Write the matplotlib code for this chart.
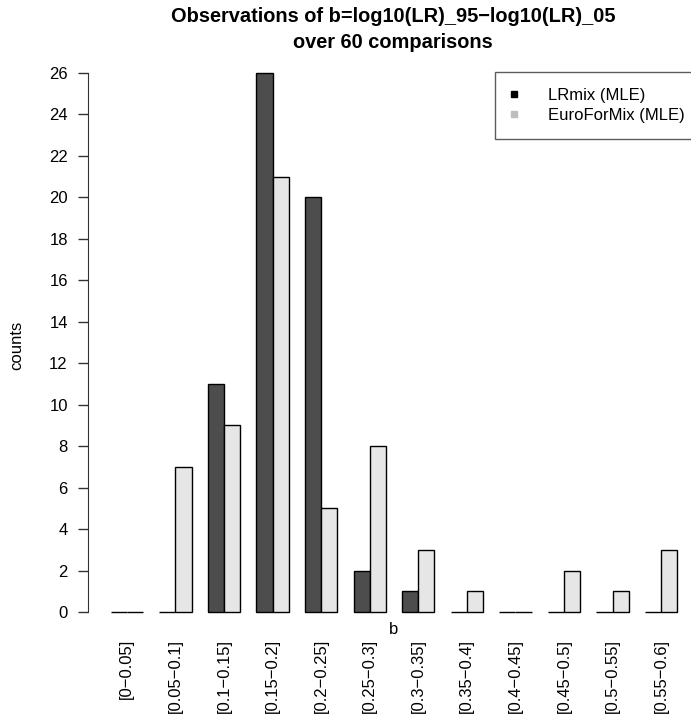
import matplotlib
matplotlib.use('Agg')
import matplotlib.pyplot as plt
from matplotlib.lines import Line2D
import numpy as np

bins = ['[0\u22120.05]', '[0.05\u22120.1]', '[0.1\u22120.15]', '[0.15\u22120.2]',
        '[0.2\u22120.25]', '[0.25\u22120.3]', '[0.3\u22120.35]', '[0.35\u22120.4]',
        '[0.4\u22120.45]', '[0.45\u22120.5]', '[0.5\u22120.55]', '[0.55\u22120.6]']
lrmix = [0, 0, 11, 26, 20, 2, 1, 0, 0, 0, 0, 0]
euroformix = [0, 7, 9, 21, 5, 8, 3, 1, 0, 2, 1, 3]
series_names = ['LRmix (MLE)', 'EuroForMix (MLE)']
yticks = list(range(0, 27, 2))

plt.rcParams['font.family'] = ['Liberation Sans', 'DejaVu Sans']

W, H = 691, 718
fig = plt.figure(figsize=(W / 100, H / 100), dpi=100)
# plot region (pixels): x 88..700, y 51..634
ax = fig.add_axes([88 / W, (H - 633.6) / H, 612 / W, (633.6 - 51.4) / H])

# barplot(beside=TRUE) layout: bars of width 1, one unit gap between groups
g = np.arange(len(bins)) * 3
ax.bar(g + 1, lrmix, width=1, align='edge', color='#4d4d4d',
       edgecolor='black', linewidth=1)
ax.bar(g + 2, euroformix, width=1, align='edge', color='#e6e6e6',
       edgecolor='black', linewidth=1)

ax.set_xlim(-0.4, 37.4)
ax.set_ylim(-1.04, 27.04)

for s in ['top', 'right', 'bottom']:
    ax.spines[s].set_visible(False)
ax.spines['left'].set_bounds(0, 26)
ax.spines['left'].set_color('#333333')
ax.set_yticks(yticks)
ax.tick_params(axis='y', length=7.5, width=1, color='#333333', labelsize=12,
               pad=7)

ax.set_xticks(g + 2)
ax.set_xticklabels(bins, rotation=90, fontsize=12, va='top')
ax.tick_params(axis='x', length=0, pad=4)

fig.text(394 / W, 1 - 630 / H, 'b', ha='center', va='center', fontsize=12)
fig.text(17 / W, 1 - 345 / H, 'counts', ha='center', va='center',
         rotation=90, fontsize=12)
fig.text(393 / W, 1 - 17 / H, 'Observations of b=log10(LR)_95\u2212log10(LR)_05',
         ha='center', va='center', fontsize=14.4, fontweight='bold')
fig.text(393 / W, 1 - 42 / H, 'over 60 comparisons',
         ha='center', va='center', fontsize=14.4, fontweight='bold')

handles = [Line2D([], [], marker='s', linestyle='none', markersize=5,
                  markerfacecolor=c, markeredgecolor=c)
           for c in ['black', '#bebebe']]
leg = ax.legend(handles, series_names, loc='upper left',
                bbox_to_anchor=(495 / W, 1 - 72 / H),
                bbox_transform=fig.transFigure, fontsize=12, frameon=True,
                fancybox=False, edgecolor='#333333', borderpad=0.97,
                handletextpad=1.86, handlelength=0.34, labelspacing=0.29,
                borderaxespad=0)
leg.get_frame().set_linewidth(1)

fig.savefig('out.png', dpi=100)
